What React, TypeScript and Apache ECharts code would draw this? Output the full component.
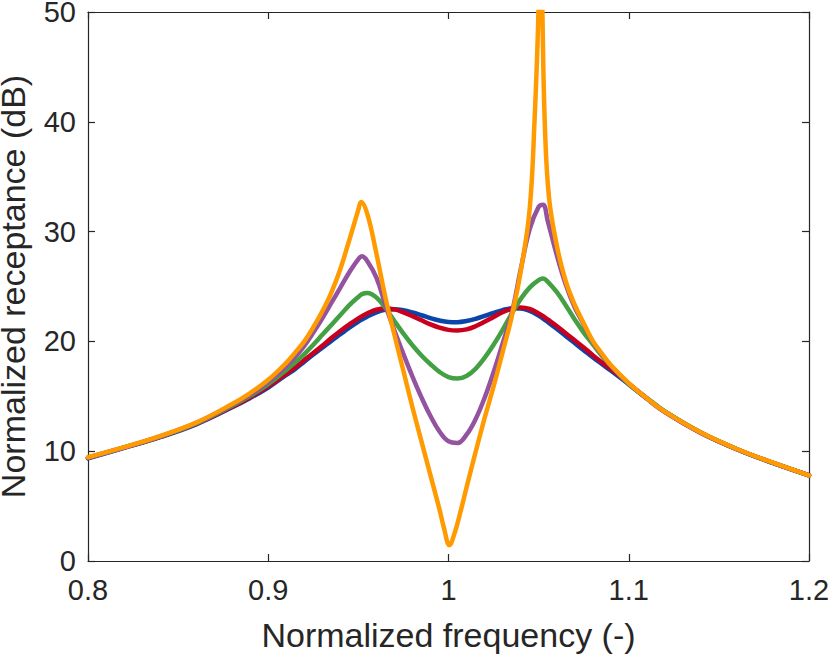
import React, { useEffect, useRef } from "react";
import * as echarts from "echarts";

// Normalized frequency grid shared by the blue, red, green and purple curves
const freq = [
  0.8, 0.82, 0.84, 0.86, 0.88, 0.89, 0.9, 0.91, 0.915, 0.92, 0.925, 0.93, 0.935, 0.94, 0.945, 0.95,
  0.952, 0.955, 0.96, 0.965, 0.97, 0.975, 0.98, 0.985, 0.99, 0.995, 1.0, 1.005, 1.01, 1.015, 1.02, 1.025,
  1.03, 1.035, 1.04, 1.045, 1.05, 1.0525, 1.055, 1.06, 1.065, 1.07, 1.075, 1.08, 1.085, 1.09, 1.1, 1.11,
  1.12, 1.14, 1.16, 1.18, 1.2,
];

const blueDb = [
  9.35, 10.3, 11.28, 12.45, 14.0, 14.85, 15.8, 16.95, 17.5, 18.15, 18.8, 19.42, 20.05, 20.65, 21.25, 21.8,
  22.0, 22.28, 22.65, 22.88, 22.93, 22.83, 22.63, 22.38, 22.12, 21.9, 21.77, 21.75, 21.85, 22.05, 22.32, 22.6,
  22.85, 23.01, 23.0, 22.78, 22.35, 22.08, 21.78, 21.15, 20.5, 19.85, 19.2, 18.55, 17.95, 17.35, 16.1, 14.8,
  13.6, 11.68, 10.18, 8.93, 7.8,
];

const redDb = [
  9.4, 10.33, 11.3, 12.5, 14.05, 14.92, 15.9, 17.05, 17.65, 18.3, 18.95, 19.6, 20.3, 20.95, 21.55, 22.1,
  22.3, 22.55, 22.88, 23.0, 22.92, 22.65, 22.3, 21.92, 21.55, 21.25, 21.05, 21.0, 21.1, 21.38, 21.78, 22.22,
  22.65, 22.95, 23.08, 22.95, 22.55, 22.3, 22.0, 21.4, 20.75, 20.1, 19.45, 18.75, 18.1, 17.5, 16.15, 14.82,
  13.6, 11.68, 10.18, 8.93, 7.8,
];

const greenDb = [
  9.4, 10.33, 11.32, 12.53, 14.15, 15.05, 16.1, 17.4, 18.1, 18.85, 19.7, 20.6, 21.5, 22.4, 23.3, 24.05,
  24.3, 24.4, 24.0, 23.05, 21.85, 20.7, 19.65, 18.72, 17.92, 17.22, 16.75, 16.62, 16.85, 17.5, 18.5, 19.7,
  21.05, 22.5, 23.85, 24.9, 25.58, 25.72, 25.45, 24.5, 23.3, 22.0, 20.8, 19.75, 18.7, 17.8, 16.1, 14.85,
  13.62, 11.7, 10.18, 8.93, 7.8,
];

const purpleDb = [
  9.42, 10.34, 11.35, 12.57, 14.22, 15.15, 16.3, 17.75, 18.6, 19.6, 20.8, 22.1, 23.5, 24.9, 26.3, 27.5,
  27.75, 27.3, 25.8, 23.3, 21.0, 18.85, 16.8, 14.9, 13.2, 11.8, 10.9, 10.75, 11.5, 12.9, 14.85, 17.2,
  19.8, 22.5, 26.5, 30.2, 32.25, 32.45, 31.0, 27.9, 25.2, 23.1, 21.55, 19.95, 18.85, 17.8, 16.15, 14.8,
  13.55, 11.65, 10.18, 8.93, 7.8,
];

// Orange curve: its own finer grid around the sharp resonance (clipped above 50 dB)
const orangeFreq = [
  0.8, 0.82, 0.84, 0.86, 0.88, 0.89, 0.9, 0.91, 0.915, 0.92, 0.925, 0.93, 0.935, 0.94, 0.945, 0.95,
  0.9515, 0.955, 0.96, 0.965, 0.97, 0.975, 0.98, 0.985, 0.99, 0.995, 0.9975, 1.0005, 1.0035, 1.007,
  1.01, 1.015, 1.02, 1.025, 1.03, 1.035, 1.04, 1.045, 1.0477, 1.0499, 1.051, 1.0521, 1.0534, 1.0557,
  1.06, 1.065, 1.07, 1.075, 1.08, 1.085, 1.09, 1.1, 1.11, 1.12, 1.14, 1.16, 1.18, 1.2,
];

const orangeDb = [
  9.45, 10.37, 11.38, 12.6, 14.3, 15.3, 16.5, 18.05, 19.0, 20.0, 21.3, 22.75, 24.45, 26.6, 29.25, 32.0,
  32.7, 31.6, 28.0, 24.0, 20.6, 17.3, 14.0, 10.9, 7.8, 4.7, 3.0, 1.45, 2.6, 4.7,
  6.7, 9.9, 13.0, 15.9, 19.0, 22.2, 26.3, 32.0, 40.0, 50.0, 62.0, 50.0, 40.0, 33.2,
  28.8, 25.5, 23.35, 21.65, 20.05, 18.9, 17.85, 16.2, 14.82, 13.6, 11.7, 10.2, 8.95, 7.8,
];

const xTicks = { min: 0.8, max: 1.2, interval: 0.1 };
const yTicks = { min: 0, max: 50, interval: 10 };

const seriesDefs = [
  { name: "blue", xs: freq, ys: blueDb, color: "#0A45AA" },
  { name: "red", xs: freq, ys: redDb, color: "#C8001E" },
  { name: "green", xs: freq, ys: greenDb, color: "#43A043" },
  { name: "purple", xs: freq, ys: purpleDb, color: "#9453A0" },
  { name: "orange", xs: orangeFreq, ys: orangeDb, color: "#FF9A00" },
];

const App = () => {
  const ref = useRef<HTMLDivElement>(null);

  useEffect(() => {
    if (!ref.current) return;
    const chart = echarts.init(ref.current, null, { renderer: "svg" });
    const axisColor = "#262626";
    const font = "'Liberation Sans', Arial, Helvetica, sans-serif";

    const baseAxis = (extra: any) => ({
      type: "value",
      axisLine: { show: true, onZero: false, lineStyle: { color: axisColor, width: 1.2 } },
      axisTick: { show: true, inside: true, length: 7, lineStyle: { color: axisColor, width: 1.2 } },
      splitLine: { show: false },
      ...extra,
    });

    chart.setOption({
      animation: false,
      backgroundColor: "#ffffff",
      grid: {
        left: 88,
        top: 12,
        right: 21,
        bottom: 97,
        containLabel: false,
        outerBoundsMode: "none",
      },
      xAxis: [
        baseAxis({
          ...xTicks,
          position: "bottom",
          name: "Normalized frequency (-)",
          nameLocation: "middle",
          nameGap: 57,
          nameTextStyle: { fontSize: 34, color: axisColor, fontFamily: font },
          axisLabel: { margin: 14, fontSize: 29, color: axisColor, fontFamily: font },
        }),
        baseAxis({
          ...xTicks,
          position: "top",
          axisLabel: { show: false },
        }),
      ],
      yAxis: [
        baseAxis({
          ...yTicks,
          position: "left",
          name: "Normalized receptance (dB)",
          nameLocation: "middle",
          nameGap: 63,
          nameTextStyle: { fontSize: 34, lineHeight: 24, color: axisColor, fontFamily: font },
          axisLabel: { margin: 12, fontSize: 29, lineHeight: 22, color: axisColor, fontFamily: font },
        }),
        baseAxis({
          ...yTicks,
          position: "right",
          axisLabel: { show: false },
        }),
      ],
      series: seriesDefs.map((s) => ({
        name: s.name,
        type: "line",
        xAxisIndex: 0,
        yAxisIndex: 0,
        data: s.xs.map((x, i) => [x, s.ys[i]]),
        showSymbol: false,
        smooth: 0.4,
        clip: true,
        lineStyle: { color: s.color, width: 4.5, cap: "round", join: "round" },
        itemStyle: { color: s.color },
        emphasis: { disabled: true },
      })),
    });

    return () => chart.dispose();
  }, []);

  return (
    <div
      ref={ref}
      style={{ position: "fixed", left: 0, top: 0, width: 830, height: 658, background: "#fff" }}
    />
  );
};

export default App;
